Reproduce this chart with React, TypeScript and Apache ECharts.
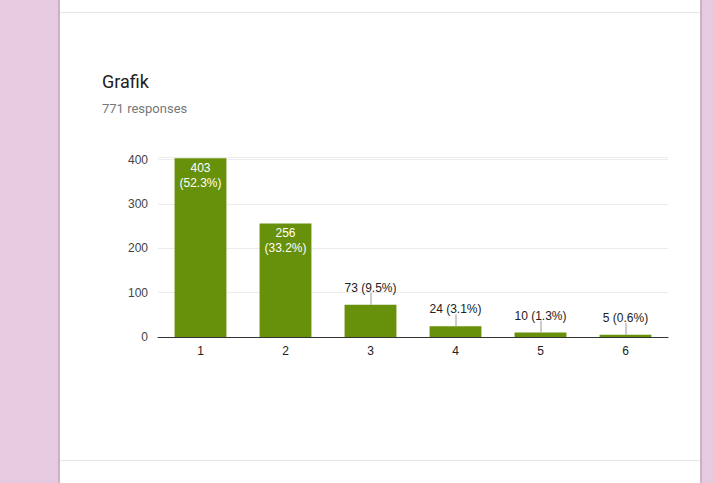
import React, { useEffect, useRef } from "react";
import * as echarts from "echarts";

const categories = ["1", "2", "3", "4", "5", "6"];
const counts = [403, 256, 73, 24, 10, 5];
const percents = ["52.3%", "33.2%", "9.5%", "3.1%", "1.3%", "0.6%"];
const yTicks = [0, 100, 200, 300, 400];
const title = "Grafik";
const subtitle = "771 responses";

const BAR = "#67900b";
const PINK = "#e6cae0";

export default function App() {
  const ref = useRef<HTMLDivElement>(null);
  useEffect(() => {
    if (!ref.current) return;
    const chart = echarts.init(ref.current, null, { renderer: "svg" });
    const insideThreshold = 100;
    const barData = counts.map((v, i) => {
      const inside = v > insideThreshold;
      return {
        value: v,
        label: inside
          ? {
              show: true,
              position: "insideTop",
              distance: 2,
              color: "#ffffff",
              fontSize: 12,
              lineHeight: 15,
              fontFamily: "Liberation Sans, Arial, sans-serif",
              formatter: `${v}\n(${percents[i]})`,
            }
          : {
              show: true,
              position: "top",
              distance: 10,
              color: "#222222",
              fontSize: 12,
              lineHeight: 14,
              fontFamily: "Liberation Sans, Arial, sans-serif",
              formatter: `${v} (${percents[i]})`,
            },
      };
    });
    const leaderData = counts
      .map((v, i) => [i, v])
      .filter((d) => d[1] <= insideThreshold);

    chart.setOption({
      animation: false,
      backgroundColor: PINK,
      graphic: [
        { type: "rect", shape: { x: 58, y: 0, width: 644, height: 483 }, style: { fill: "#c9b3c4" }, z: 0 },
        { type: "rect", shape: { x: 60, y: 0, width: 640, height: 483 }, style: { fill: "#ffffff" }, z: 0 },
        { type: "line", shape: { x1: 60, y1: 12.5, x2: 700, y2: 12.5 }, style: { stroke: "#e4e4e4", lineWidth: 1 }, z: 1 },
        { type: "line", shape: { x1: 60, y1: 460.5, x2: 700, y2: 460.5 }, style: { stroke: "#e4e4e4", lineWidth: 1 }, z: 1 },
        {
          type: "text",
          left: 102,
          top: 72,
          style: { text: title, fontSize: 18, fontFamily: "Roboto, sans-serif", fill: "#212121" },
          z: 2,
        },
        {
          type: "text",
          left: 102,
          top: 102,
          style: { text: subtitle, fontSize: 13, fontFamily: "Roboto, sans-serif", fill: "#777777" },
          z: 2,
        },
      ],
      grid: {
        left: 158,
        right: 45,
        top: 157,
        height: 180,
        show: true,
        borderColor: "#ececec",
        borderWidth: 1,
        backgroundColor: "#ffffff",
      },
      xAxis: {
        type: "category",
        data: categories,
        axisTick: { show: false },
        axisLine: { show: true, lineStyle: { color: "#333333", width: 1 } },
        axisLabel: {
          color: "#222222",
          fontSize: 12,
          margin: 8,
          fontFamily: "Liberation Sans, Arial, sans-serif",
        },
      },
      yAxis: {
        type: "value",
        min: yTicks[0],
        max: 406,
        interval: 100,
        axisLine: { show: false },
        axisTick: { show: false },
        splitLine: { lineStyle: { color: "#ececec", width: 1 } },
        axisLabel: {
          color: "#444444",
          fontSize: 12,
          margin: 10,
          showMaxLabel: false,
          fontFamily: "Liberation Sans, Arial, sans-serif",
          formatter: (v: number) => (yTicks.includes(v) ? String(v) : ""),
        },
      },
      series: [
        {
          type: "bar",
          data: barData,
          barWidth: "61%",
          itemStyle: { color: BAR },
          z: 3,
        },
        {
          type: "custom",
          data: leaderData,
          z: 4,
          silent: true,
          renderItem: (params: any, api: any) => {
            const p = api.coord([api.value(0), api.value(1)]);
            return {
              type: "line",
              shape: { x1: p[0] + 0.5, y1: p[1], x2: p[0] + 0.5, y2: p[1] - 12 },
              style: { stroke: "#999999", lineWidth: 1 },
            };
          },
        },
      ],
    });
    return () => chart.dispose();
  }, []);
  return (
    <div
      ref={ref}
      style={{ position: "fixed", left: 0, top: 0, width: 713, height: 483 }}
    />
  );
}
